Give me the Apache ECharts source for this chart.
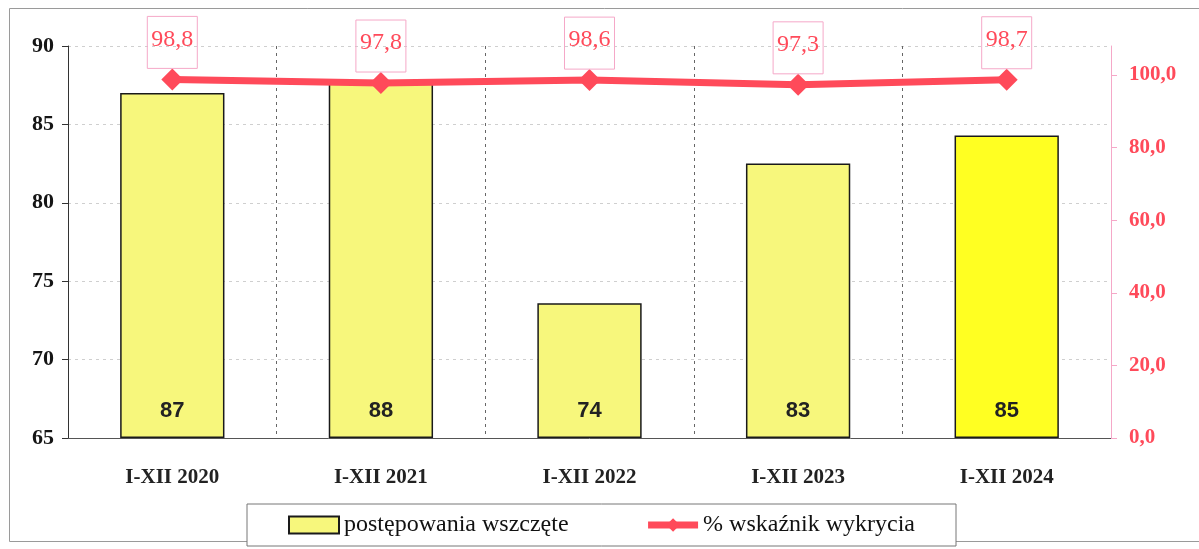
<!DOCTYPE html>
<html>
<head>
<meta charset="utf-8">
<script src="https://cdn.jsdelivr.net/npm/echarts@6/dist/echarts.min.js"></script>
<style>
  html, body { margin: 0; padding: 0; background: #fff; }
  #chart { width: 1199px; height: 549px; }
</style>
</head>
<body>
<div id="chart"></div>
<script>
const periods = ['I-XII 2020', 'I-XII 2021', 'I-XII 2022', 'I-XII 2023', 'I-XII 2024']
// bar heights as drawn, and the numbers printed on the bars
const cases = [87.0, 87.8, 73.6, 82.5, 84.3]
const caseLabels = ['87', '88', '74', '83', '85']
const detection = [98.8, 97.8, 98.6, 97.3, 98.7]

const serif = "'Liberation Serif', 'Times New Roman', serif"
const red = '#ff4a5a'
const pink = '#f5a8c8'

const chart = echarts.init(document.getElementById('chart'))

chart.setOption({
  animation: false,
  graphic: [
    {
      type: 'rect',
      shape: { x: 9.5, y: 8.5, width: 1200, height: 533 },
      style: { fill: 'none', stroke: '#9a9a9a', lineWidth: 1 },
      z: -1,
    },
  ],
  grid: { left: 68, right: 88, top: 46, bottom: 111 },
  legend: {
    left: 247,
    top: 504,
    padding: [9, 41, 9, 41],
    itemGap: 76,
    itemWidth: 50,
    itemHeight: 17,
    borderColor: '#777',
    borderWidth: 1,
    backgroundColor: '#fff',
    textStyle: { fontFamily: serif, fontSize: 24, color: '#111' },
    data: [
      { name: 'postępowania wszczęte', icon: 'rect' },
      { name: '% wskaźnik wykrycia', lineStyle: { width: 7 } },
    ],
  },
  xAxis: {
    type: 'category',
    data: periods,
    axisLine: { lineStyle: { color: '#555', width: 1 } },
    axisTick: { length: 6, lineStyle: { color: '#555' } },
    splitLine: { show: true, lineStyle: { color: '#666', type: [3, 4] } },
    axisLabel: {
      fontFamily: serif,
      fontWeight: 'bold',
      fontSize: 21,
      color: '#222',
      margin: 29,
    },
  },
  yAxis: [
    {
      type: 'value',
      min: 65,
      max: 90,
      interval: 5,
      startValue: 65,
      axisLine: { show: true, lineStyle: { color: '#333' } },
      axisTick: { show: true, length: 6, lineStyle: { color: '#333' } },
      splitLine: { lineStyle: { color: '#cfcfcf', type: [3, 4] } },
      axisLabel: {
        fontFamily: serif,
        fontWeight: 'bold',
        fontSize: 22,
        color: '#151515',
        margin: 14,
      },
    },
    {
      type: 'value',
      min: 0,
      max: 108,
      interval: 20,
      position: 'right',
      axisLine: { show: true, lineStyle: { color: pink } },
      axisTick: { show: true, length: 6, lineStyle: { color: pink } },
      splitLine: { show: false },
      axisLabel: {
        showMaxLabel: false,
        fontFamily: serif,
        fontWeight: 'bold',
        fontSize: 21,
        color: red,
        margin: 18,
        formatter: (v) => (v % 20 === 0 ? v.toFixed(1).replace('.', ',') : ''),
      },
    },
  ],
  series: [
    {
      name: 'postępowania wszczęte',
      type: 'bar',
      barWidth: '50%',
      data: cases.map((v, i) =>
        i === cases.length - 1 ? { value: v, itemStyle: { color: '#ffff22' } } : v,
      ),
      itemStyle: { color: '#f7f77c', borderColor: '#1a1a1a', borderWidth: 1.5 },
      label: {
        show: true,
        position: 'insideBottom',
        distance: 16,
        fontFamily: "'Liberation Sans', Arial, sans-serif",
        fontWeight: 'bold',
        fontSize: 22,
        color: '#222',
        formatter: (p) => caseLabels[p.dataIndex],
      },
    },
    {
      name: '% wskaźnik wykrycia',
      type: 'line',
      yAxisIndex: 1,
      data: detection,
      symbol: 'diamond',
      symbolSize: 22,
      lineStyle: { color: red, width: 7 },
      itemStyle: { color: red },
      label: {
        show: true,
        position: 'top',
        distance: 0,
        fontFamily: serif,
        fontSize: 24,
        lineHeight: 24,
        color: red,
        borderColor: pink,
        borderWidth: 1,
        padding: [11, 4, 17, 4],
        formatter: (p) => p.value.toFixed(1).replace('.', ','),
      },
    },
  ],
})
</script>
</body>
</html>
